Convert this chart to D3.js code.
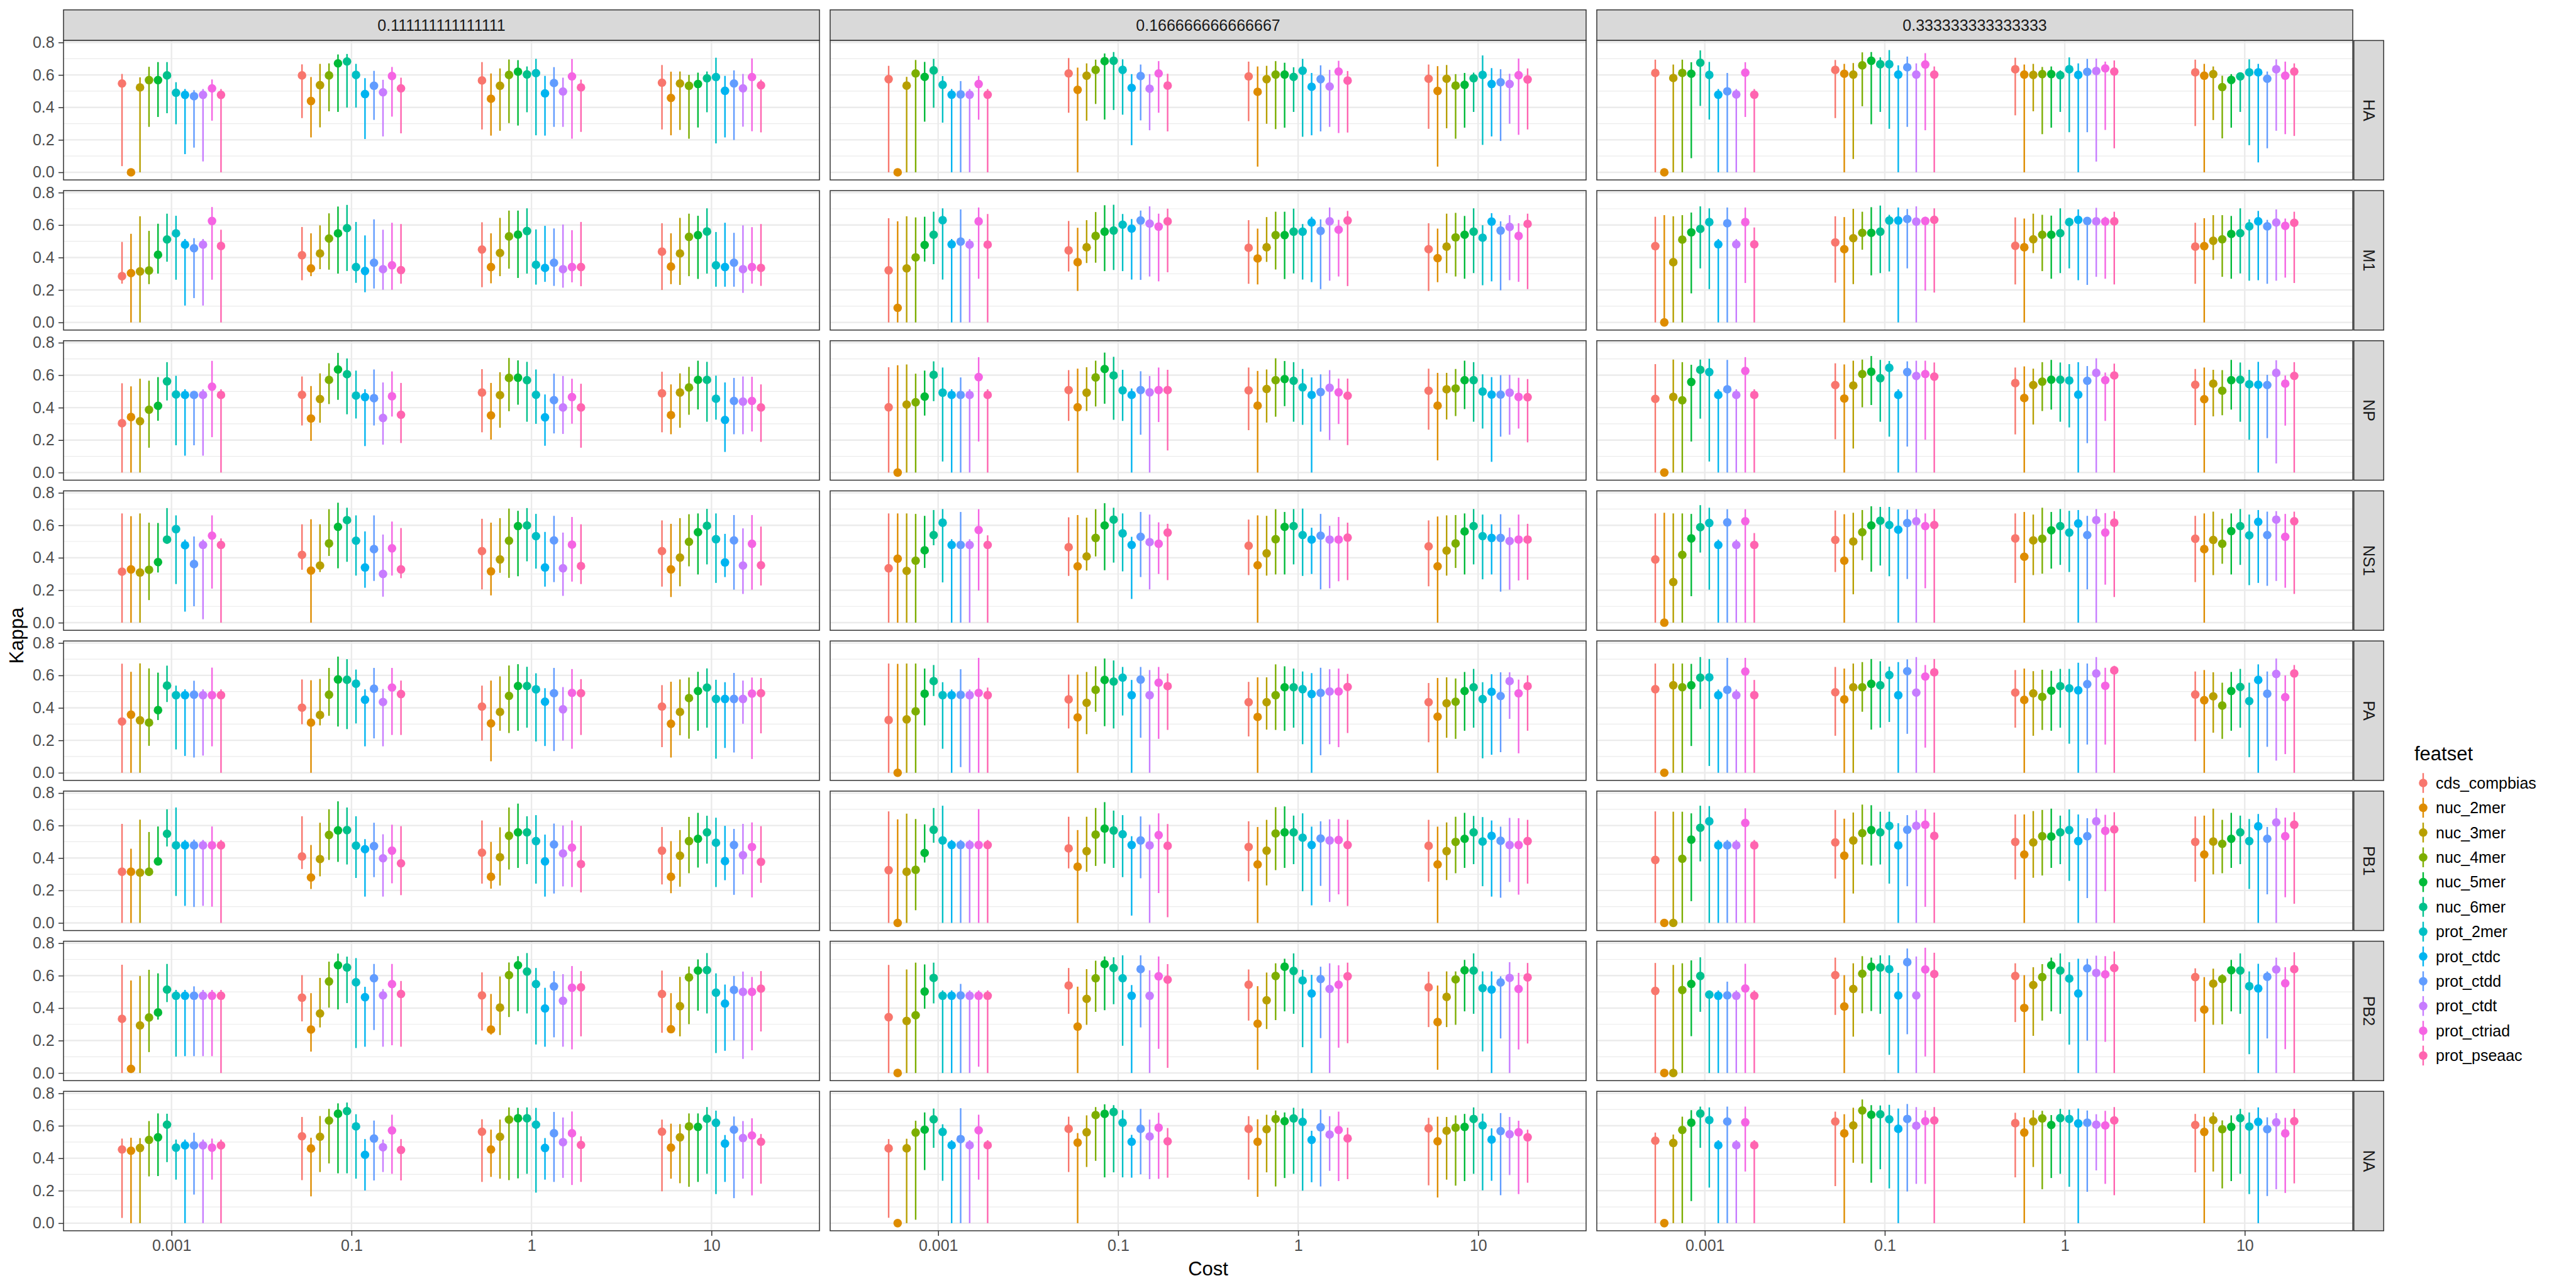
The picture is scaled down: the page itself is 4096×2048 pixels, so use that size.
<!DOCTYPE html>
<html><head><meta charset="utf-8">
<script src="https://cdn.jsdelivr.net/npm/d3@7"></script>
<style>body{margin:0;background:#fff}svg{display:block}</style>
</head><body>
<svg id="chart" width="4096" height="2048"></svg>
<script>
const featsets = ["cds_compbias","nuc_2mer","nuc_3mer","nuc_4mer","nuc_5mer","nuc_6mer","prot_2mer","prot_ctdc","prot_ctdd","prot_ctdt","prot_ctriad","prot_pseaac"];
const costs = ["0.001","0.1","1","10"];
const weights = ["0.111111111111111","0.166666666666667","0.333333333333333"];
const proteins = ["HA","M1","NP","NS1","PA","PB1","PB2","NA"];
const yTicks = [0,0.2,0.4,0.6,0.8];
const yMinor = [0.1,0.3,0.5,0.7];
const palette = ["#F8766D","#DE8C00","#B79F00","#7CAE00","#00BA38","#00C08B","#00BFC4","#00B4F0","#619CFF","#C77CFF","#F564E3","#FF64B0"];

// each array: 4 costs x 12 featsets (cost-major order)
const HA_1_mean=[.547,0,.523,.568,.568,.597,.49,.477,.469,.477,.517,.477, .597,.439,.537,.597,.671,.683,.60,.482,.533,.493,.593,.517, .566,.453,.533,.60,.62,.603,.611,.486,.55,.498,.591,.523, .552,.458,.547,.533,.544,.579,.587,.502,.547,.517,.587,.536];
const HA_1_lo=[.038,0,0,.28,.341,.364,.296,.112,.152,.067,.318,0, .334,.215,.277,.376,.372,.399,.399,.205,.323,.221,.343,.24, .264,.226,.256,.303,.288,.37,.228,.226,.28,.28,.207,.249, .264,.228,.261,.207,.276,.37,.178,.215,.199,.281,.253,.246];
const HA_1_hi=[.606,0,.585,.65,.679,.679,.555,.513,.506,.513,.572,.513, .665,.587,.668,.671,.726,.729,.668,.58,.625,.57,.649,.583, .679,.609,.64,.695,.691,.652,.699,.594,.648,.583,.698,.571, .661,.62,.621,.60,.614,.621,.706,.594,.628,.606,.702,.571];

const M1_1_mean=[.285,.304,.314,.32,.417,.511,.549,.479,.457,.479,.625,.471, .414,.333,.425,.517,.549,.581,.341,.317,.368,.328,.352,.322, .449,.341,.428,.53,.541,.563,.355,.336,.368,.328,.341,.341, .436,.344,.425,.527,.538,.56,.352,.341,.368,.328,.341,.336];
const M1_1_lo=[.239,0,0,.236,.301,.374,.263,.104,.15,.104,.263,0, .26,.285,.328,.325,.301,.317,.244,.186,.209,.201,.201,.239, .217,.241,.285,.331,.274,.301,.233,.25,.225,.214,.247,.223, .20,.236,.231,.285,.268,.301,.22,.22,.22,.182,.239,.225];
const M1_1_hi=[.496,.546,.654,.564,.608,.67,.657,.514,.519,.514,.711,.571, .588,.549,.598,.672,.714,.724,.619,.536,.635,.571,.614,.606, .617,.549,.644,.689,.689,.703,.573,.595,.579,.603,.568,.619, .611,.549,.644,.67,.657,.703,.557,.614,.552,.598,.587,.606];

const NP_1_mean=[.304,.342,.316,.387,.411,.562,.481,.478,.478,.478,.529,.478, .479,.333,.453,.571,.635,.606,.474,.465,.458,.336,.47,.356, .493,.352,.477,.583,.584,.569,.479,.34,.446,.401,.465,.401, .488,.354,.493,.524,.571,.571,.455,.324,.441,.437,.441,.401];
const NP_1_lo=[0,0,0,.153,.319,.444,.168,.104,.168,.104,.218,0, .29,.195,.307,.422,.448,.359,.333,.163,.29,.172,.345,.182, .248,.203,.276,.378,.418,.313,.30,.165,.241,.238,.301,.153, .248,.236,.276,.356,.389,.313,.326,.127,.236,.236,.253,.189];
const NP_1_hi=[.55,.531,.578,.566,.588,.68,.596,.513,.491,.513,.688,.513, .592,.533,.611,.673,.737,.703,.628,.513,.635,.555,.623,.552, .637,.552,.618,.706,.691,.682,.635,.481,.609,.595,.578,.547, .621,.543,.611,.651,.689,.682,.597,.555,.583,.592,.59,.543];

const NS1_1_mean=[.314,.328,.309,.326,.373,.512,.576,.477,.361,.479,.536,.479, .418,.321,.352,.488,.59,.632,.505,.34,.453,.30,.458,.328, .441,.316,.389,.505,.595,.599,.533,.34,.507,.335,.481,.349, .441,.328,.401,.498,.557,.597,.514,.371,.507,.352,.486,.354];
const NS1_1_lo=[0,0,0,.139,.309,.486,.238,.068,.101,.021,.21,0, .326,0,.312,.411,.335,.375,.29,.215,.257,.16,.29,.274, .205,.168,.307,.276,.286,.378,.333,.222,.25,.165,.253,.238, .222,.158,.224,.347,.297,.359,.245,.281,.203,.177,.203,.229];
const NS1_1_hi=[.673,.656,.673,.616,.614,.706,.661,.512,.531,.512,.661,.519, .606,.637,.606,.699,.739,.708,.661,.562,.661,.543,.623,.583, .64,.616,.644,.703,.689,.706,.67,.559,.658,.555,.651,.606, .63,.609,.644,.668,.673,.701,.673,.547,.663,.581,.663,.592];

const PA_1_mean=[.316,.358,.323,.309,.386,.537,.478,.478,.481,.478,.478,.478, .401,.309,.356,.481,.575,.573,.549,.45,.518,.436,.525,.485, .408,.304,.375,.474,.535,.535,.514,.438,.49,.391,.492,.49, .408,.302,.375,.46,.504,.525,.455,.455,.455,.455,.488,.49];
const PA_1_lo=[0,0,0,.166,.325,.436,.144,.104,.094,.106,.163,0, .299,0,.292,.351,.285,.269,.304,.163,.212,.163,.233,.233, .198,.071,.259,.245,.259,.278,.193,.165,.134,.198,.148,.233, .158,.094,.231,.21,.259,.278,.087,.153,.125,.302,.085,.243];
const PA_1_hi=[.672,.622,.674,.643,.617,.66,.537,.514,.567,.514,.648,.514, .575,.57,.578,.646,.716,.70,.636,.514,.646,.516,.646,.568, .537,.568,.594,.661,.669,.653,.613,.521,.646,.528,.639,.577, .54,.561,.575,.587,.622,.643,.573,.558,.615,.568,.587,.584];

const PB1_1_mean=[.315,.315,.31,.315,.379,.549,.478,.478,.478,.478,.478,.478, .409,.28,.393,.542,.57,.572,.476,.454,.473,.398,.445,.367, .433,.284,.405,.537,.558,.558,.504,.379,.483,.428,.464,.362, .445,.284,.414,.504,.518,.558,.494,.381,.48,.417,.468,.376];
const PB1_1_lo=[0,0,0,.291,.355,.471,.166,.105,.098,.105,.10,0, .332,.209,.287,.388,.376,.36,.277,.162,.282,.162,.244,.171, .242,.211,.23,.329,.339,.362,.242,.162,.181,.225,.221,.188, .237,.183,.223,.306,.341,.365,.221,.263,.173,.299,.157,.247];
const PB1_1_hi=[.61,.457,.636,.56,.594,.70,.711,.511,.513,.511,.594,.511, .657,.48,.617,.70,.749,.711,.657,.516,.617,.546,.605,.596, .631,.499,.589,.711,.735,.657,.664,.544,.612,.60,.631,.598, .591,.504,.572,.653,.678,.66,.648,.598,.579,.61,.619,.596];

const PB2_1_mean=[.334,.026,.293,.342,.373,.514,.476,.476,.476,.476,.476,.476, .464,.268,.367,.564,.664,.65,.559,.467,.584,.478,.548,.487, .478,.268,.403,.603,.664,.625,.548,.398,.534,.445,.525,.528, .487,.27,.412,.589,.631,.634,.495,.428,.512,.50,.50,.52];
const PB2_1_lo=[0,0,0,.129,.329,.437,.101,.104,.104,.104,.104,0, .318,.132,.281,.403,.392,.431,.154,.162,.265,.162,.171,.162, .262,.237,.234,.345,.381,.367,.176,.162,.22,.162,.146,.226, .248,.248,.226,.301,.384,.367,.123,.137,.201,.087,.14,.256];
const PB2_1_hi=[.667,.57,.598,.636,.614,.672,.512,.512,.534,.512,.512,.512, .603,.492,.586,.686,.736,.717,.708,.531,.672,.517,.672,.567, .62,.487,.595,.681,.72,.739,.647,.525,.628,.609,.659,.628, .631,.492,.592,.656,.70,.739,.614,.545,.598,.625,.592,.628];

const NA_1_mean=[.454,.446,.463,.513,.529,.607,.465,.479,.479,.479,.465,.479, .535,.46,.532,.632,.674,.69,.596,.421,.521,.468,.571,.451, .563,.454,.532,.638,.646,.646,.607,.463,.554,.499,.554,.482, .563,.465,.529,.596,.593,.643,.618,.49,.576,.524,.54,.501];
const NA_1_lo=[.032,0,0,.288,.29,.376,.268,0,.176,0,.268,0, .265,.165,.315,.368,.307,.307,.274,.201,.263,.315,.304,.263, .254,.285,.274,.265,.276,.304,.188,.268,.254,.279,.235,.254, .196,.274,.246,.224,.254,.304,.179,.254,.154,.274,.171,.243];
const NA_1_hi=[.521,.526,.524,.629,.676,.674,.515,.515,.557,.515,.521,.515, .654,.526,.66,.704,.738,.743,.671,.518,.632,.515,.668,.518, .64,.576,.638,.713,.71,.713,.71,.524,.685,.651,.688,.535, .638,.613,.61,.676,.676,.715,.693,.543,.657,.629,.646,.549];

const HA_2_mean=[.574,0,.534,.609,.588,.628,.539,.478,.48,.478,.544,.478, .609,.508,.595,.631,.685,.687,.631,.52,.593,.515,.609,.534, .591,.496,.574,.602,.602,.588,.626,.527,.574,.529,.621,.565, .576,.501,.576,.534,.539,.579,.60,.544,.555,.544,.598,.572];
const HA_2_lo=[0,0,0,0,.312,.398,.306,0,0,0,.324,0, .367,0,.318,.421,.325,.384,.355,.167,.32,.259,.367,.252, .315,.035,.299,.266,.275,.372,.219,.228,.252,.28,.242,.245, .268,.035,.271,.207,.275,.372,.169,.221,.193,.299,.231,.264];
const HA_2_hi=[.656,0,.588,.692,.68,.699,.593,.513,.562,.513,.594,.513, .704,.645,.671,.694,.732,.741,.696,.605,.664,.605,.685,.607, .682,.652,.656,.685,.675,.647,.699,.612,.659,.631,.687,.624, .664,.654,.661,.605,.612,.614,.72,.642,.635,.607,.701,.64];

const M1_2_mean=[.321,.09,.333,.401,.477,.54,.63,.481,.498,.479,.623,.479, .444,.371,.463,.533,.559,.566,.602,.578,.628,.609,.59,.623, .46,.394,.463,.538,.538,.559,.559,.616,.564,.623,.571,.628, .451,.396,.467,.524,.54,.559,.522,.621,.566,.588,.533,.607];
const M1_2_lo=[0,0,0,0,.375,.359,.264,0,0,0,.269,0, .314,.194,.366,.368,.316,.323,.316,.264,.262,.283,.253,.309, .238,.234,.373,.326,.267,.302,.264,.248,.205,.257,.283,.224, .194,.248,.304,.283,.269,.304,.229,.253,.198,.26,.25,.205];
const M1_2_hi=[.642,.623,.654,.647,.651,.682,.703,.514,.696,.514,.708,.668, .625,.583,.63,.68,.722,.725,.668,.637,.689,.715,.67,.701, .63,.578,.649,.682,.682,.701,.606,.651,.635,.708,.632,.687, .611,.578,.67,.675,.656,.703,.599,.673,.623,.661,.611,.67];

const NP_2_mean=[.402,0,.419,.433,.468,.602,.492,.478,.478,.478,.588,.478, .508,.402,.492,.586,.638,.598,.506,.478,.508,.494,.508,.508, .506,.412,.515,.569,.576,.565,.525,.478,.496,.522,.494,.473, .504,.412,.513,.518,.569,.569,.499,.48,.48,.492,.466,.464];
const NP_2_lo=[0,0,0,0,.351,.44,.068,0,0,0,.191,0, .318,0,.379,.407,.424,.325,.318,0,.233,0,.311,.136, .261,0,.308,.344,.409,.313,.294,0,.252,.20,.299,.169, .264,.075,.327,.348,.391,.313,.271,.066,.221,.233,.271,.186];
const NP_2_hi=[.649,.661,.666,.609,.628,.685,.647,.513,.586,.513,.711,.513, .631,.64,.649,.689,.739,.713,.633,.518,.624,.595,.647,.633, .647,.626,.635,.704,.687,.68,.638,.586,.605,.631,.579,.579, .64,.614,.614,.638,.689,.68,.605,.588,.60,.602,.584,.576];

const NS1_2_mean=[.335,.394,.319,.382,.446,.54,.616,.479,.479,.479,.571,.479, .465,.347,.408,.522,.599,.635,.55,.479,.529,.496,.486,.555, .474,.354,.427,.514,.59,.595,.54,.512,.536,.512,.512,.524, .47,.347,.444,.488,.562,.595,.533,.522,.522,.503,.512,.512];
const NS1_2_lo=[0,0,0,0,.337,.477,.248,0,0,0,.198,0, .288,0,.321,.408,.323,.37,.316,.146,.281,.205,.30,.262, .293,0,.29,.297,.297,.359,.288,.30,.205,.212,.255,.262, .224,0,.29,.337,.297,.359,.267,.297,.191,.203,.26,.264];
const NS1_2_hi=[.673,.673,.673,.67,.658,.694,.70,.514,.682,.514,.699,.538, .649,.663,.647,.699,.736,.708,.673,.529,.682,.666,.618,.609, .635,.661,.658,.699,.682,.70,.703,.585,.67,.597,.651,.616, .63,.654,.661,.663,.673,.70,.666,.606,.668,.585,.666,.609];

const PA_2_mean=[.325,0,.329,.379,.487,.565,.478,.478,.48,.478,.492,.478, .452,.341,.431,.511,.572,.562,.586,.478,.574,.478,.555,.534, .435,.344,.435,.478,.527,.527,.515,.485,.492,.501,.501,.529, .435,.346,.428,.438,.504,.527,.454,.499,.473,.565,.489,.534];
const PA_2_lo=[0,0,0,0,.292,.473,.148,0,.035,0,0,0, .273,0,.238,.376,.287,.273,.353,0,.216,0,.209,.264, .224,0,.266,.264,.259,.278,.176,0,.108,.176,.158,.245, .188,0,.216,.209,.259,.278,.089,.111,.127,.332,.12,.259];
const PA_2_hi=[.673,.671,.673,.673,.642,.664,.558,.513,.638,.513,.708,.525, .605,.605,.621,.656,.704,.692,.652,.572,.652,.633,.652,.612, .56,.588,.588,.668,.656,.642,.624,.614,.647,.638,.642,.609, .553,.584,.588,.581,.621,.64,.558,.607,.619,.619,.574,.60];

const PB1_2_mean=[.325,0,.315,.327,.431,.574,.508,.48,.48,.48,.48,.48, .459,.346,.442,.544,.581,.569,.546,.48,.508,.478,.541,.475, .468,.36,.445,.551,.558,.558,.525,.48,.52,.508,.511,.48, .475,.36,.442,.499,.518,.558,.501,.536,.506,.48,.48,.504];
const PB1_2_lo=[0,0,0,.078,.372,.494,0,0,0,0,0,0, .336,0,.315,.351,.365,.339,.282,.045,.275,0,.184,.035, .256,0,.231,.325,.339,.362,.195,.108,.228,.129,.176,.104, .254,0,.264,.306,.339,.362,.226,.162,.155,.252,.174,.242];
const PB1_2_hi=[.687,.638,.673,.64,.607,.708,.722,.511,.511,.511,.701,.511, .654,.572,.654,.708,.744,.692,.664,.534,.656,.605,.675,.609, .626,.591,.635,.713,.718,.661,.675,.593,.626,.638,.64,.635, .635,.593,.619,.654,.678,.659,.652,.631,.593,.647,.645,.635];

const PB2_2_mean=[.344,0,.321,.356,.502,.586,.476,.476,.478,.476,.476,.476, .539,.286,.457,.584,.671,.647,.584,.476,.64,.476,.596,.575, .544,.304,.448,.598,.655,.629,.57,.49,.579,.518,.544,.596, .528,.314,.469,.577,.633,.631,.523,.514,.558,.586,.518,.589];
const PB2_2_lo=[0,0,0,0,.396,.429,0,0,0,0,.039,0, .365,0,.297,.377,.387,.424,.168,0,.281,0,.149,.032, .323,.02,.271,.326,.38,.365,.159,0,.215,0,.156,.184, .283,.02,.283,.297,.38,.365,.133,0,.213,0,.145,.182];
const PB2_2_hi=[.666,0,.638,.68,.669,.68,.509,.509,.549,.509,.509,.509, .647,.532,.64,.692,.718,.713,.725,.542,.725,.633,.718,.671, .638,.535,.619,.676,.704,.737,.636,.605,.655,.676,.664,.68, .624,.539,.626,.626,.697,.737,.626,.626,.596,.683,.617,.678];

const NA_2_mean=[.461,0,.461,.558,.576,.64,.562,.48,.518,.48,.572,.48, .581,.496,.56,.666,.673,.685,.619,.501,.581,.534,.588,.504, .581,.501,.579,.642,.628,.645,.624,.513,.591,.546,.574,.522, .584,.504,.569,.588,.593,.642,.602,.515,.567,.548,.56,.529];
const NA_2_lo=[.033,0,0,.021,.327,.464,.261,0,0,0,.268,0, .315,0,.346,.384,.282,.313,.282,.28,.301,.271,.273,.28, .268,.162,.313,.226,.278,.304,.20,.252,.226,.322,.259,.271, .233,.158,.268,.231,.259,.304,.202,.261,.172,.296,.179,.249];
const NA_2_hi=[.518,0,.52,.631,.682,.706,.609,.511,.708,.511,.668,.511, .656,.555,.664,.715,.732,.727,.696,.544,.704,.638,.68,.586, .659,.64,.668,.694,.682,.711,.706,.569,.699,.659,.687,.588, .649,.656,.654,.664,.673,.713,.675,.584,.678,.654,.631,.576];

const HA_3_mean=[.612,0,.581,.612,.607,.675,.60,.478,.499,.48,.614,.478, .631,.607,.602,.659,.687,.666,.666,.602,.647,.602,.664,.602, .635,.602,.60,.605,.605,.598,.635,.60,.619,.624,.64,.621, .616,.595,.605,.525,.569,.591,.616,.616,.576,.635,.595,.621];
const HA_3_lo=[0,0,0,0,.087,.409,.325,0,0,0,.341,0, .334,0,.082,.407,.296,.372,.268,0,.28,0,.259,0, .351,0,.376,.235,.275,.372,.247,0,.247,.066,.261,.148, .285,0,.322,.209,.275,.372,.167,.061,.148,.256,.235,.224];
const HA_3_hi=[.694,0,.664,.694,.678,.751,.68,.513,.612,.513,.678,.513, .692,.668,.673,.739,.741,.708,.753,.659,.713,.671,.734,.652, .706,.664,.668,.649,.652,.628,.708,.671,.699,.701,.682,.689, .694,.668,.652,.595,.605,.614,.696,.668,.621,.696,.682,.671];

const M1_3_mean=[.47,0,.371,.51,.555,.576,.618,.481,.611,.481,.618,.481, .493,.451,.519,.552,.552,.559,.628,.628,.637,.621,.625,.632, .472,.463,.512,.54,.54,.55,.618,.632,.625,.623,.621,.623, .467,.47,.503,.512,.545,.55,.592,.623,.592,.616,.595,.614];
const M1_3_lo=[0,0,0,0,.179,.333,.205,0,0,0,.243,0, .245,0,.236,.448,.29,.304,.314,0,.333,0,.196,.184, .234,0,.427,.316,.269,.304,.333,.26,.231,.281,.269,.234, .238,0,.385,.281,.269,.302,.257,.26,.238,.257,.276,.243];
const M1_3_hi=[.651,.661,.654,.661,.677,.715,.703,.514,.708,.514,.708,.585, .654,.649,.70,.682,.71,.72,.663,.708,.699,.715,.651,.703, .647,.64,.67,.663,.658,.703,.644,.696,.649,.706,.651,.682, .614,.642,.661,.661,.656,.703,.635,.687,.632,.696,.64,.682];

const NP_3_mean=[.454,0,.466,.445,.558,.633,.619,.478,.513,.478,.626,.478, .539,.456,.536,.607,.621,.581,.645,.478,.619,.595,.607,.591, .551,.459,.539,.56,.572,.572,.567,.48,.565,.614,.569,.598, .541,.452,.548,.504,.569,.572,.544,.541,.539,.614,.548,.595];
const NP_3_lo=[0,0,0,0,.191,.332,.068,0,0,0,0,0, .205,0,.148,.402,.416,.313,.221,0,.16,0,.202,0, .235,0,.296,.379,.388,.313,.278,0,.181,0,.318,0, .292,0,.346,.353,.388,.313,.202,0,.212,.056,.289,0];
const NP_3_hi=[.668,0,.696,.68,.664,.696,.701,.513,.694,.513,.711,.513, .673,.666,.689,.696,.718,.694,.687,.513,.685,.689,.689,.678, .647,.654,.64,.68,.694,.678,.668,.68,.656,.704,.616,.671, .638,.647,.633,.631,.694,.678,.633,.682,.602,.692,.598,.68];

const NS1_3_mean=[.389,0,.25,.418,.519,.588,.614,.479,.618,.479,.625,.479, .51,.382,.50,.557,.599,.628,.602,.573,.614,.625,.595,.602, .519,.406,.507,.517,.569,.595,.555,.611,.54,.632,.555,.616, .517,.453,.51,.486,.564,.595,.538,.621,.54,.635,.529,.625];
const NS1_3_lo=[0,0,0,0,.163,.432,.203,0,0,0,0,0, .312,0,.175,.385,.314,.352,.286,0,.269,0,.212,0, .245,0,.293,.302,.333,.356,.312,0,.205,0,.234,.158, .25,0,.293,.363,.297,.356,.231,.245,.227,.257,.215,.177];
const NS1_3_hi=[.673,.677,.673,.673,.67,.724,.708,.512,.699,.512,.699,.552, .691,.668,.677,.694,.717,.713,.713,.699,.696,.70,.673,.70, .673,.682,.666,.708,.682,.70,.689,.694,.658,.70,.675,.687, .658,.673,.684,.64,.673,.70,.666,.694,.684,.687,.67,.684];

const PA_3_mean=[.515,0,.539,.527,.539,.586,.588,.478,.511,.478,.624,.478, .496,.452,.527,.527,.548,.539,.602,.478,.626,.494,.593,.619, .494,.449,.489,.468,.506,.534,.52,.508,.546,.612,.536,.631, .482,.447,.471,.414,.504,.529,.442,.572,.487,.609,.466,.612];
const PA_3_lo=[0,0,0,0,.165,.393,.042,0,0,0,0,0, .228,0,0,.376,.266,.278,.313,0,.24,0,.155,0, .278,0,.228,.264,.259,.278,.179,0,.174,0,.174,0, .195,0,.247,.209,.259,.278,.096,0,.16,.075,.115,0];
const PA_3_hi=[.673,0,.673,.673,.671,.713,.701,.513,.708,.513,.708,.572, .652,.642,.673,.682,.701,.687,.654,.682,.699,.713,.664,.701, .633,.642,.626,.635,.628,.64,.64,.678,.673,.713,.647,.659, .624,.633,.619,.555,.621,.64,.555,.668,.624,.704,.60,.664];

const PB1_3_mean=[.388,0,0,.395,.513,.586,.626,.478,.478,.478,.616,.478, .496,.414,.508,.553,.572,.558,.598,.478,.574,.598,.605,.536, .499,.421,.496,.534,.532,.558,.572,.504,.534,.626,.567,.576, .499,.421,.501,.487,.518,.558,.504,.595,.518,.619,.534,.605];
const PB1_3_lo=[0,0,0,0,.134,.379,0,0,0,0,0,0, .273,0,.181,.36,.353,.36,.242,0,.226,0,.099,0, .268,0,.278,.292,.339,.362,.259,0,.153,0,.195,0, .254,0,.299,.306,.339,.362,.209,0,.176,0,.158,.118];
const PB1_3_hi=[.687,0,.685,.685,.675,.722,.72,.511,.511,.511,.706,.511, .696,.642,.68,.729,.725,.685,.685,.614,.664,.694,.701,.68, .668,.668,.689,.696,.704,.661,.699,.668,.645,.704,.666,.682, .656,.661,.704,.635,.678,.661,.64,.671,.591,.708,.649,.682];

const PB2_3_mean=[.506,0,0,.511,.549,.598,.483,.476,.478,.476,.521,.476, .603,.41,.518,.612,.655,.65,.64,.478,.683,.478,.638,.61, .598,.401,.542,.591,.664,.631,.582,.49,.645,.617,.608,.647, .591,.391,.551,.579,.633,.631,.535,.521,.593,.638,.553,.64];
const PB2_3_lo=[0,0,0,0,.227,.377,0,0,0,0,0,0, .358,0,.224,.368,.382,.365,.112,0,.239,0,.102,0, .314,0,.229,.323,.38,.365,.175,0,.199,0,.192,0, .316,0,.297,.30,.38,.365,.116,0,.213,0,.147,0];
const PB2_3_hi=[.678,0,.666,.676,.694,.713,.509,.509,.563,.509,.673,.509, .711,.603,.676,.72,.711,.725,.725,.617,.767,.718,.772,.741, .676,.603,.652,.671,.711,.737,.683,.704,.704,.723,.72,.749, .645,.591,.643,.608,.697,.737,.626,.673,.626,.711,.652,.744];

const NA_3_mean=[.508,0,.494,.574,.619,.675,.635,.48,.626,.48,.621,.48, .626,.553,.602,.694,.668,.671,.64,.581,.642,.60,.628,.633, .616,.558,.626,.645,.605,.647,.642,.614,.619,.607,.602,.633, .605,.562,.635,.579,.593,.647,.595,.624,.579,.621,.553,.628];
const NA_3_lo=[0,0,0,0,.136,.464,.219,0,0,0,.318,0, .228,0,.372,.367,.249,.332,.214,0,.195,.242,.242,0, .282,0,.346,.209,.278,.304,.224,0,.193,.325,.242,.172, .313,0,.318,.214,.259,.304,.179,0,.167,.209,.186,.245];
const NA_3_hi=[.558,0,.546,.656,.696,.718,.713,.511,.718,.511,.718,.511, .687,.671,.711,.762,.727,.725,.729,.706,.734,.715,.694,.715, .68,.652,.696,.692,.666,.704,.699,.706,.694,.671,.692,.715, .673,.656,.682,.633,.664,.704,.682,.713,.652,.678,.649,.704];

const panelSeries = {
  HA:  [[HA_1_mean,HA_1_lo,HA_1_hi],[HA_2_mean,HA_2_lo,HA_2_hi],[HA_3_mean,HA_3_lo,HA_3_hi]],
  M1:  [[M1_1_mean,M1_1_lo,M1_1_hi],[M1_2_mean,M1_2_lo,M1_2_hi],[M1_3_mean,M1_3_lo,M1_3_hi]],
  NP:  [[NP_1_mean,NP_1_lo,NP_1_hi],[NP_2_mean,NP_2_lo,NP_2_hi],[NP_3_mean,NP_3_lo,NP_3_hi]],
  NS1: [[NS1_1_mean,NS1_1_lo,NS1_1_hi],[NS1_2_mean,NS1_2_lo,NS1_2_hi],[NS1_3_mean,NS1_3_lo,NS1_3_hi]],
  PA:  [[PA_1_mean,PA_1_lo,PA_1_hi],[PA_2_mean,PA_2_lo,PA_2_hi],[PA_3_mean,PA_3_lo,PA_3_hi]],
  PB1: [[PB1_1_mean,PB1_1_lo,PB1_1_hi],[PB1_2_mean,PB1_2_lo,PB1_2_hi],[PB1_3_mean,PB1_3_lo,PB1_3_hi]],
  PB2: [[PB2_1_mean,PB2_1_lo,PB2_1_hi],[PB2_2_mean,PB2_2_lo,PB2_2_hi],[PB2_3_mean,PB2_3_lo,PB2_3_hi]],
  NA:  [[NA_1_mean,NA_1_lo,NA_1_hi],[NA_2_mean,NA_2_lo,NA_2_hi],[NA_3_mean,NA_3_lo,NA_3_hi]]
};

// ---------- layout ----------
const FONT = "'Liberation Sans', Arial, Helvetica, sans-serif";
const PL = 101, PW = 1202, HGAP = 17;
const PT = 64.4, PH = 221.7, VGAP = 17;
const STRIP = 48.4;
const svg = d3.select("#chart").style("font-family", FONT);
svg.append("rect").attr("width",4096).attr("height",2048).attr("fill","#fff");

const x = d3.scalePoint().domain(costs).range([0, PW]).padding(0.6);
const y = d3.scaleLinear().domain([-0.047, 0.812]).range([PH, 0]);
const color = d3.scaleOrdinal().domain(featsets).range(palette);
const dodge = x.step() * 0.6 / featsets.length;

function rowsFor(series) {
  const [m, l, h] = series;
  const out = [];
  costs.forEach((c, ci) => featsets.forEach((f, fi) => {
    const k = ci * featsets.length + fi;
    out.push({cost: c, feat: f, fi, mean: m[k], lo: l[k], hi: h[k]});
  }));
  return out;
}

proteins.forEach((p, r) => {
  weights.forEach((w, c) => {
    const gx = PL + c * (PW + HGAP), gy = PT + r * (PH + VGAP);
    const g = svg.append("g").attr("transform", `translate(${gx},${gy})`);
    g.append("rect").attr("width", PW).attr("height", PH).attr("fill", "#fff");
    g.selectAll(".minor").data(yMinor).join("line")
      .attr("x1", 0).attr("x2", PW).attr("y1", d => y(d)).attr("y2", d => y(d))
      .attr("stroke", "#EBEBEB").attr("stroke-width", 1.2);
    g.selectAll(".majory").data(yTicks).join("line")
      .attr("x1", 0).attr("x2", PW).attr("y1", d => y(d)).attr("y2", d => y(d))
      .attr("stroke", "#EBEBEB").attr("stroke-width", 2.4);
    g.selectAll(".majorx").data(costs).join("line")
      .attr("x1", d => x(d)).attr("x2", d => x(d)).attr("y1", 0).attr("y2", PH)
      .attr("stroke", "#EBEBEB").attr("stroke-width", 2.4);

    const data = rowsFor(panelSeries[p][c]);
    const px = d => x(d.cost) + (d.fi - (featsets.length - 1) / 2) * dodge;
    const items = g.selectAll(".pr").data(data).join("g");
    items.append("line")
      .attr("x1", px).attr("x2", px).attr("y1", d => y(d.lo)).attr("y2", d => y(d.hi))
      .attr("stroke", d => color(d.feat)).attr("stroke-width", 2.4);
    items.append("circle")
      .attr("cx", px).attr("cy", d => y(d.mean)).attr("r", 6.8)
      .attr("fill", d => color(d.feat));

    g.append("rect").attr("width", PW).attr("height", PH)
      .attr("fill", "none").attr("stroke", "#333333").attr("stroke-width", 1.5);

    if (c === 0) {
      const ax = g.append("g").call(d3.axisLeft(y).tickValues(yTicks).tickFormat(d3.format(".1f")).tickSize(8).tickPadding(6.3));
      ax.select(".domain").remove();
      ax.selectAll("line").attr("stroke", "#333333").attr("stroke-width", 1.5);
      ax.selectAll("text").attr("fill", "#4D4D4D").style("font-size", "25px").style("font-family", FONT);
    }
    if (r === proteins.length - 1) {
      const ax = g.append("g").attr("transform", `translate(0,${PH})`)
        .call(d3.axisBottom(x).tickSize(8).tickPadding(6.3));
      ax.select(".domain").remove();
      ax.selectAll("line").attr("stroke", "#333333").attr("stroke-width", 1.5);
      ax.selectAll("text").attr("fill", "#4D4D4D").style("font-size", "25px").style("font-family", FONT);
    }
  });
  // right strip
  const sx = PL + 3 * PW + 2 * HGAP + 1.8, sy = PT + r * (PH + VGAP);
  svg.append("rect").attr("x", sx).attr("y", sy).attr("width", STRIP - 1).attr("height", PH)
    .attr("fill", "#D9D9D9").attr("stroke", "#333333").attr("stroke-width", 1.5);
  svg.append("text").attr("transform", `translate(${sx + (STRIP - 1) / 2},${sy + PH / 2}) rotate(90)`)
    .attr("text-anchor", "middle").attr("dy", "0.35em")
    .attr("fill", "#1A1A1A").style("font-size", "25px").text(p);
});

// top strips
weights.forEach((w, c) => {
  const sx = PL + c * (PW + HGAP), sy = PT - STRIP - 0.3;
  svg.append("rect").attr("x", sx).attr("y", sy).attr("width", PW).attr("height", STRIP)
    .attr("fill", "#D9D9D9").attr("stroke", "#333333").attr("stroke-width", 1.5);
  svg.append("text").attr("x", sx + PW / 2).attr("y", sy + STRIP / 2).attr("dy", "0.35em")
    .attr("text-anchor", "middle").attr("fill", "#1A1A1A").style("font-size", "25px").text(w);
});

// axis titles
const panelsBottom = PT + (proteins.length - 1) * (PH + VGAP) + PH;
svg.append("text").attr("transform", `translate(26,${(PT + panelsBottom) / 2}) rotate(-90)`)
  .attr("text-anchor", "middle").attr("dy", "0.35em").style("font-size", "31px").attr("fill", "#000").text("Kappa");
svg.append("text").attr("x", PL + (3 * PW + 2 * HGAP) / 2).attr("y", 2017).attr("dy", "0.35em")
  .attr("text-anchor", "middle").style("font-size", "31px").attr("fill", "#000").text("Cost");

// legend
const LX = 3839, LY = 1198, KEY = 39.4;
svg.append("text").attr("x", LX).attr("y", LY).attr("dy", "0.35em")
  .style("font-size", "31px").attr("fill", "#000").text("featset");
const leg = svg.selectAll(".leg").data(featsets).join("g")
  .attr("transform", (d, i) => `translate(${LX + 14},${LY + 47 + i * KEY})`);
leg.append("line").attr("x1", 0).attr("x2", 0).attr("y1", -KEY * 0.4).attr("y2", KEY * 0.4)
  .attr("stroke", d => color(d)).attr("stroke-width", 2.4);
leg.append("circle").attr("r", 6.8).attr("fill", d => color(d));
leg.append("text").attr("x", 20).attr("dy", "0.35em").style("font-size", "25px").attr("fill", "#000").text(d => d);
</script>
</body></html>
